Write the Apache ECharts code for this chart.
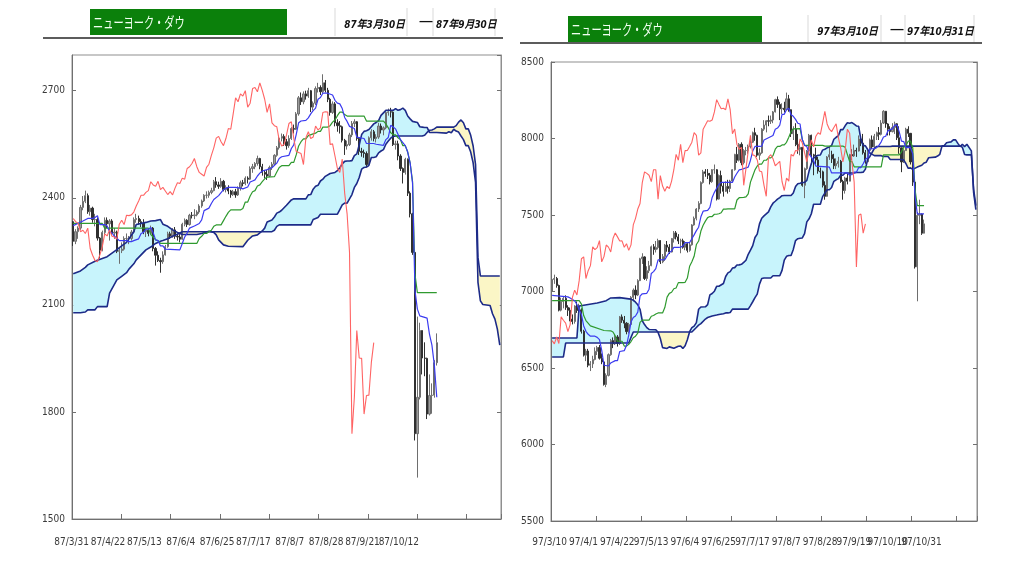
<!DOCTYPE html>
<html><head><meta charset="utf-8">
<script src="https://cdn.jsdelivr.net/npm/echarts@6/dist/echarts.min.js"></script>
<style>html,body{margin:0;padding:0;background:#fff}#c{width:1024px;height:576px}</style>
</head><body><div id="c"></div>
<script>
// ---------- text ----------
const titleText = 'ニューヨーク・ダウ';
const leftFrom = '87年3月30日', leftTo = '87年9月30日';
const rightFrom = '97年3月10日', rightTo = '97年10月31日';
const rangeDash = '—';

// ---------- tick labels ----------
const leftTickLabels = ['87/3/31','87/4/22','87/5/13','87/6/4','87/6/25','87/7/17','87/8/7','87/8/28','87/9/21','87/10/12'];
const rightTickLabels = ['97/3/10','97/4/1','97/4/22','97/5/13','97/6/4','97/6/25','97/7/17','97/8/7','97/8/28','97/9/19','97/10/10','97/10/31'];

// ---------- 1987 daily candles [open, close, low, high] ----------
const leftOHLC = [
[2333,2278,2265,2335],[2278,2305,2270,2312],[2305,2315,2285,2320],[2315,2373,2310,2380],[2373,2390,2365,2405],
[2390,2406,2385,2420],[2406,2361,2355,2412],[2361,2371,2350,2380],[2371,2339,2330,2375],[2339,2339,2320,2355],
[2339,2287,2280,2345],[2287,2253,2230,2290],[2253,2303,2250,2308],[2303,2337,2298,2345],[2337,2327,2315,2345],
[2327,2335,2280,2340],[2335,2301,2295,2340],[2301,2304,2285,2315],[2304,2250,2245,2308],[2250,2252,2215,2262],
[2252,2256,2245,2275],[2256,2286,2252,2292],[2286,2286,2278,2300],[2286,2286,2270,2293],[2286,2304,2280,2310],
[2304,2339,2300,2345],[2339,2342,2330,2355],[2342,2333,2325,2350],[2333,2329,2318,2340],[2329,2305,2298,2340],
[2305,2309,2290,2315],[2309,2300,2292,2315],[2300,2315,2298,2322],[2315,2258,2250,2318],[2258,2239,2210,2262],
[2239,2224,2220,2250],[2224,2221,2190,2232],[2221,2240,2215,2250],[2240,2263,2238,2268],[2263,2299,2260,2305],
[2299,2293,2285,2305],[2293,2310,2288,2315],[2310,2292,2285,2318],[2292,2290,2280,2300],[2290,2284,2275,2298],
[2284,2326,2282,2330],[2326,2337,2320,2342],[2337,2325,2318,2340],[2325,2351,2322,2355],[2351,2350,2342,2360],
[2350,2352,2340,2368],[2352,2360,2348,2365],[2360,2377,2355,2382],[2377,2391,2372,2395],[2391,2407,2388,2410],
[2407,2407,2398,2418],[2407,2415,2400,2420],[2415,2420,2410,2428],[2420,2445,2418,2450],[2445,2436,2428,2458],
[2436,2432,2425,2445],[2432,2446,2428,2455],[2446,2423,2418,2450],[2423,2429,2415,2435],[2429,2419,2410,2435],
[2419,2409,2400,2422],[2409,2417,2405,2422],[2417,2408,2400,2425],[2408,2427,2405,2432],[2427,2442,2420,2448],
[2442,2440,2432,2450],[2440,2455,2435,2460],[2455,2452,2440,2460],[2452,2482,2450,2488],[2482,2487,2470,2495],
[2487,2496,2480,2500],[2496,2510,2490,2518],[2510,2487,2480,2512],[2487,2471,2462,2495],[2471,2466,2455,2478],
[2466,2461,2450,2478],[2461,2485,2458,2490],[2485,2494,2478,2500],[2494,2519,2490,2522],[2519,2540,2515,2545],
[2540,2567,2535,2570],[2567,2572,2558,2580],[2572,2557,2545,2578],[2557,2546,2535,2565],[2546,2566,2540,2575],
[2566,2594,2562,2598],[2594,2592,2580,2605],[2592,2635,2590,2640],[2635,2680,2630,2685],[2680,2669,2660,2695],
[2669,2691,2662,2698],[2691,2685,2675,2700],[2685,2700,2680,2708],[2700,2654,2640,2702],[2654,2665,2645,2670],
[2665,2706,2660,2712],[2706,2709,2695,2722],[2709,2697,2688,2715],[2697,2722,2692,2746],[2722,2701,2695,2730],
[2701,2676,2668,2708],[2676,2639,2630,2680],[2639,2663,2635,2670],[2663,2610,2600,2668],[2610,2602,2585,2620],
[2602,2599,2580,2615],[2599,2561,2555,2602],[2561,2545,2520,2565],[2545,2549,2535,2560],[2549,2576,2545,2582],
[2576,2608,2570,2615],[2608,2613,2598,2620],[2613,2566,2560,2615],[2566,2530,2520,2570],[2530,2527,2515,2540],
[2527,2524,2512,2535],[2524,2493,2485,2530],[2493,2568,2488,2572],[2568,2585,2560,2592],[2585,2566,2558,2590],
[2566,2570,2555,2578],[2570,2601,2565,2610],[2601,2590,2580,2608],[2590,2596,2575,2600],[2596,2639,2592,2642],
[2639,2641,2630,2650],[2641,2640,2625,2652],[2640,2549,2545,2642],[2549,2551,2535,2560],[2551,2517,2505,2560],
[2517,2482,2475,2522],[2482,2471,2440,2485],[2471,2508,2465,2512],[2508,2413,2405,2510],[2413,2355,2345,2418],
[2355,2247,2240,2358],[2247,1739,1720,2247],[1739,1841,1616,2067],[1841,2028,1835,2050],[2028,1951,1905,2028],
[1951,1950,1900,1995],[1950,1794,1780,1952],[1794,1846,1790,1905],[1846,1847,1795,1880],[1847,1938,1840,1945],
[1938,1994,1930,2020]
];
// conversion line (bar index, value)
const leftTenkan = [[0,2322],[4,2335],[6,2342],[8,2342],[9,2345],[10,2350],[11,2325],[13,2325],[14,2321],[15,2305],[16,2302],[17,2292],[18,2287],[19,2280],[22,2280],[23,2277],[24,2277],[25,2280],[27,2285],[28,2300],[29,2303],[30,2312],[31,2312],[32,2317],[33,2302],[34,2282],[35,2280],[36,2265],[37,2265],[38,2256],[44,2254],[45,2272],[46,2290],[47,2301],[48,2315],[50,2321],[52,2328],[53,2338],[54,2364],[56,2371],[57,2384],[58,2395],[60,2406],[62,2423],[64,2429],[67,2429],[69,2427],[70,2425],[72,2430],[73,2444],[74,2447],[75,2450],[76,2461],[77,2469],[78,2475],[80,2479],[82,2484],[84,2497],[85,2510],[86,2515],[89,2519],[90,2538],[91,2548],[92,2577],[93,2610],[94,2615],[96,2617],[97,2624],[98,2635],[99,2644],[100,2651],[101,2676],[102,2681],[103,2693],[105,2693],[107,2688],[108,2673],[109,2665],[110,2663],[111,2650],[112,2625],[113,2614],[114,2600],[116,2594],[117,2570],[120,2566],[121,2552],[124,2552],[125,2550],[128,2547],[129,2563],[130,2569],[131,2603],[132,2598],[133,2593],[134,2578],[135,2563],[137,2546],[138,2528],[139,2498],[140,2441],[141,2140],[142,2088],[143,2069],[146,2063],[147,2017],[148,1987],[149,1931],[150,1841]];
// base line
const leftKijun = [[0,2328],[12,2328],[13,2315],[31,2315],[32,2297],[33,2290],[34,2282],[35,2280],[36,2272],[51,2272],[52,2286],[53,2292],[54,2300],[55,2300],[56,2305],[57,2309],[58,2320],[59,2324],[61,2324],[62,2336],[63,2348],[64,2359],[65,2366],[69,2366],[70,2370],[71,2388],[72,2388],[73,2405],[74,2417],[75,2420],[76,2433],[77,2436],[78,2445],[79,2453],[80,2458],[83,2459],[84,2472],[85,2485],[86,2490],[89,2490],[90,2499],[91,2499],[92,2520],[93,2545],[94,2557],[95,2565],[96,2565],[97,2574],[99,2579],[100,2581],[101,2586],[102,2586],[103,2598],[105,2598],[106,2602],[107,2612],[108,2618],[109,2630],[110,2640],[111,2640],[112,2633],[113,2629],[120,2629],[121,2615],[128,2615],[129,2607],[130,2596],[131,2582],[132,2577],[133,2576],[134,2568],[135,2563],[136,2546],[137,2546],[138,2528],[139,2498],[140,2446],[141,2186],[142,2134],[150,2134]];
// leading spans [bar index, span A, span B]
const leftSpans = [[0,2187,2078],[3,2195,2078],[5,2205,2080],[6,2212,2086],[9,2222,2086],[10,2225,2095],[14,2235,2095],[15,2240,2133],[18,2255,2170],[20,2265,2180],[22,2275,2190],[23,2285,2200],[25,2305,2215],[26,2325,2226],[30,2331,2254],[32,2335,2262],[34,2336,2272],[36,2339,2278],[37,2326,2280],[39,2320,2285],[41,2310,2292],[43,2303,2298],[45,2297,2305],[51,2297,2305],[53,2300,2305],[56,2306,2305],[58,2303,2305],[59,2296,2305],[60,2282,2305],[62,2268,2305],[64,2264,2305],[70,2263,2305],[71,2272,2305],[72,2281,2305],[74,2293,2305],[76,2296,2305],[78,2307,2305],[79,2315,2305],[80,2332,2305],[82,2338,2305],[83,2346,2309],[84,2357,2320],[85,2360,2324],[86,2365,2324],[88,2379,2324],[90,2394,2324],[91,2397,2324],[96,2397,2324],[97,2408,2324],[98,2409,2324],[99,2424,2339],[100,2432,2342],[101,2435,2345],[102,2447,2354],[103,2452,2354],[104,2460,2354],[106,2468,2354],[108,2471,2354],[109,2476,2354],[110,2484,2367],[111,2495,2380],[112,2502,2385],[113,2503,2385],[114,2503,2397],[115,2504,2409],[116,2518,2429],[117,2523,2440],[118,2548,2457],[119,2577,2480],[120,2586,2485],[121,2588,2486],[122,2591,2491],[123,2599,2513],[124,2607,2513],[125,2611,2515],[126,2616,2526],[127,2631,2531],[128,2638,2535],[129,2645,2550],[130,2645,2559],[131,2645,2567],[132,2645,2572],[133,2650,2573],[134,2645,2573],[135,2647,2573],[136,2651,2573],[137,2645,2573],[138,2629,2573],[139,2621,2573],[140,2614,2573],[142,2611,2573],[143,2599,2573],[144,2598,2573],[145,2597,2575],[146,2597,2583],[147,2583,2589],[148,2583,2590],[149,2583,2593],[150,2583,2598],[154,2581,2598],[155,2585,2598],[156,2582,2598],[157,2592,2598],[158,2587,2602],[159,2584,2612],[160,2573,2618],[161,2563,2610],[162,2546,2593],[163,2546,2593],[164,2528,2575],[165,2498,2545],[166,2443,2493],[167,2163,2233],[168,2111,2181],[169,2101,2181],[172,2098,2181],[173,2075,2181],[174,2060,2181],[175,2032,2181],[176,1987,2181]];

// ---------- 1997 daily candles [open, close, low, high] ----------
const rightOHLC = [
[7000,7079,6990,7100],[7079,7085,7050,7110],[7085,7039,7025,7095],[7039,6878,6870,7045],[6878,6935,6870,6960],
[6935,6955,6890,6965],[6955,6896,6880,6975],[6896,6877,6840,6910],[6877,6820,6805,6895],[6820,6804,6785,6850],
[6804,6905,6790,6910],[6905,6876,6860,6935],[6876,6880,6860,6920],[6880,6740,6725,6890],[6740,6584,6575,6750],
[6584,6611,6545,6625],[6611,6518,6505,6625],[6518,6527,6480,6545],[6527,6556,6500,6580],[6556,6609,6550,6635],
[6609,6634,6585,6645],[6634,6564,6555,6650],[6564,6540,6525,6595],[6540,6392,6385,6545],[6392,6452,6375,6465],
[6452,6587,6445,6595],[6587,6679,6580,6690],[6679,6658,6630,6700],[6658,6703,6650,6720],[6703,6660,6640,6715],
[6660,6834,6650,6840],[6834,6812,6795,6850],[6812,6793,6760,6840],[6793,6738,6720,6800],[6738,6784,6725,6795],
[6784,6962,6780,6970],[6962,7009,6935,7020],[7009,6977,6950,7040],[6977,7071,6970,7080],[7071,7214,7068,7220],
[7214,7226,7180,7250],[7226,7085,7075,7230],[7085,7136,7070,7165],[7136,7169,7120,7200],[7169,7292,7165,7300],
[7292,7274,7240,7310],[7274,7287,7255,7330],[7287,7333,7275,7345],[7333,7194,7180,7335],[7194,7228,7185,7245],
[7228,7304,7200,7310],[7304,7290,7260,7330],[7290,7258,7245,7310],[7258,7346,7255,7350],[7346,7383,7320,7395],
[7383,7357,7340,7395],[7357,7330,7310,7375],[7330,7331,7250,7345],[7331,7289,7280,7345],[7289,7312,7270,7330],
[7312,7269,7255,7320],[7269,7305,7260,7320],[7305,7435,7300,7440],[7435,7478,7430,7490],[7478,7539,7465,7545],
[7539,7575,7520,7590],[7575,7712,7570,7720],[7712,7782,7705,7795],[7782,7772,7750,7800],[7772,7760,7735,7800],
[7760,7718,7700,7775],[7718,7796,7710,7800],[7796,7796,7770,7830],[7796,7604,7595,7800],[7604,7758,7600,7765],
[7758,7689,7640,7790],[7689,7655,7620,7710],[7655,7687,7650,7720],[7687,7673,7640,7730],[7673,7722,7650,7730],
[7722,7796,7715,7800],[7796,7896,7790,7900],[7896,7858,7840,7945],[7858,7962,7850,7970],[7962,7842,7825,7975],
[7842,7921,7830,7930],[7921,7922,7890,7945],[7922,7948,7900,7960],[7948,7976,7935,8000],[7976,8038,7970,8045],
[8038,8021,7985,8070],[8021,7891,7880,8025],[7891,7906,7860,7935],[7906,8061,7900,8068],[8061,8088,8050,8120],
[8088,8116,8040,8120],[8116,8113,8080,8150],[8113,8121,8095,8150],[8121,8174,8100,8180],[8174,8254,8170,8260],
[8254,8223,8200,8275],[8223,8194,8120,8240],[8194,8198,8160,8230],[8198,8188,8170,8240],[8188,8259,8185,8300],
[8259,8188,8175,8285],[8188,8031,8010,8190],[8031,8062,7990,8080],[8062,7960,7950,8100],[7960,7929,7900,8030],
[7929,7942,7890,7980],[7942,7694,7685,7945],[7694,7803,7610,7810],[7803,7918,7795,7925],[7918,8021,7910,8030],
[8021,7893,7830,8025],[7893,7887,7760,7900],[7887,7860,7830,7940],[7860,7787,7770,7880],[7787,7782,7740,7810],
[7782,7694,7680,7790],[7694,7622,7600,7720],[7622,7879,7620,7885],[7879,7894,7860,7950],[7894,7867,7840,7920],
[7867,7822,7800,7900],[7822,7836,7800,7870],[7836,7851,7810,7880],[7851,7719,7710,7860],[7719,7660,7600,7730],
[7660,7742,7640,7750],[7742,7721,7700,7770],[7721,7895,7720,7900],[7895,7886,7860,7930],[7886,7922,7880,7960],
[7922,7918,7880,7940],[7918,7997,7915,8020],[7997,7970,7950,8010],[7970,7907,7895,8030],[7907,7848,7835,7925],
[7848,7922,7845,7930],[7922,7991,7915,8000],[7991,7945,7930,8020],[7945,8015,7940,8030],[8015,8038,7990,8045],
[8038,8027,7990,8075],[8027,8101,8020,8120],[8101,8178,8095,8185],[8178,8095,8070,8180],[8095,8061,8020,8100],
[8061,8045,8020,8080],[8045,8072,8040,8100],[8072,8096,8030,8110],[8096,8005,7990,8100],[8005,7939,7900,8080],
[7939,7847,7780,7940],[7847,7921,7840,7930],[7921,8061,7920,8070],[8061,8034,8010,8080],[8034,7847,7830,8030],
[7847,7715,7690,7930],[7715,7161,7150,7730],[7161,7498,6936,7520],[7498,7506,7440,7600],[7506,7381,7370,7510],
[7381,7442,7380,7470]
];
const rightTenkan = [[0,6975],[7,6965],[8,6958],[9,6948],[10,6940],[11,6915],[12,6880],[13,6850],[14,6775],[15,6740],[16,6720],[17,6708],[19,6708],[20,6700],[21,6685],[22,6615],[23,6518],[25,6513],[26,6533],[28,6548],[29,6548],[30,6608],[32,6613],[33,6648],[34,6715],[35,6800],[36,6830],[37,6840],[38,6865],[39,6970],[40,6985],[42,6988],[43,7015],[44,7118],[45,7130],[46,7150],[47,7207],[50,7208],[51,7233],[52,7255],[53,7265],[54,7288],[56,7288],[57,7290],[58,7298],[59,7320],[61,7320],[62,7345],[63,7370],[64,7398],[65,7420],[66,7488],[67,7525],[69,7530],[70,7550],[71,7615],[72,7648],[73,7675],[74,7700],[75,7713],[80,7713],[81,7748],[82,7773],[83,7795],[84,7798],[86,7808],[87,7813],[88,7858],[89,7918],[90,7948],[92,7948],[93,7950],[94,7990],[96,8005],[98,8020],[99,8060],[100,8068],[101,8088],[102,8158],[103,8158],[104,8190],[105,8198],[106,8155],[107,8145],[108,8125],[109,8100],[110,8095],[111,7993],[112,7955],[113,7948],[114,7900],[116,7855],[117,7820],[122,7815],[123,7813],[124,7775],[131,7775],[132,7760],[133,7765],[134,7780],[135,7780],[136,7810],[137,7810],[138,7835],[139,7865],[140,7875],[141,7933],[143,7933],[144,7940],[145,7955],[146,7978],[147,8010],[148,8015],[149,8050],[150,8058],[151,8063],[152,8088],[153,8088],[154,8043],[155,7983],[156,7980],[157,7940],[159,7940],[160,7900],[161,7625],[162,7508],[165,7508]];
const rightKijun = [[0,6940],[12,6940],[13,6918],[14,6843],[15,6810],[17,6775],[23,6745],[26,6743],[27,6735],[28,6710],[29,6675],[31,6675],[32,6643],[33,6643],[34,6655],[35,6673],[36,6698],[37,6708],[38,6728],[39,6798],[40,6813],[43,6813],[44,6838],[45,6843],[46,6853],[47,6860],[49,6860],[50,6895],[51,6963],[52,6988],[53,6995],[54,7018],[55,7023],[56,7058],[58,7058],[59,7060],[60,7088],[61,7165],[62,7195],[63,7230],[64,7307],[65,7330],[66,7395],[67,7433],[68,7460],[69,7483],[70,7490],[71,7490],[72,7505],[73,7505],[74,7508],[75,7515],[76,7538],[77,7538],[78,7540],[81,7540],[82,7598],[83,7613],[85,7615],[86,7618],[87,7638],[88,7715],[89,7755],[90,7795],[91,7820],[92,7833],[93,7833],[94,7858],[95,7858],[96,7873],[97,7873],[98,7888],[99,7930],[100,7948],[101,7948],[102,7958],[103,7958],[104,7975],[105,8008],[106,8045],[107,8063],[110,8065],[111,7993],[112,7955],[120,7955],[121,7950],[129,7950],[130,7943],[131,7895],[132,7850],[133,7850],[134,7815],[146,7815],[147,7893],[154,7893],[155,7913],[156,7943],[157,7953],[158,7983],[159,7983],[160,7938],[161,7668],[162,7561],[165,7561]];
const rightSpans = [[0,6696,6572],[5,6696,6572],[6,6696,6663],[11,6696,6663],[12,6905,6663],[16,6915,6663],[20,6925,6663],[24,6940,6663],[26,6958,6663],[30,6960,6663],[34,6952,6663],[35,6950,6700],[36,6943,6735],[37,6930,6735],[38,6913,6735],[39,6884,6735],[40,6809,6735],[41,6784,6735],[42,6764,6735],[43,6752,6735],[46,6750,6735],[47,6733,6735],[48,6693,6735],[49,6633,6735],[51,6628,6735],[52,6638,6735],[54,6629,6735],[56,6642,6735],[57,6644,6735],[58,6628,6735],[59,6646,6735],[60,6685,6735],[61,6737,6735],[62,6764,6735],[63,6774,6750],[64,6797,6765],[65,6884,6780],[66,6899,6790],[68,6900,6820],[69,6914,6830],[70,6978,6835],[71,6987,6840],[72,7002,6843],[73,7034,6846],[74,7034,6850],[76,7052,6855],[77,7098,6860],[78,7122,6860],[79,7130,6863],[80,7153,6885],[81,7156,6885],[82,7173,6885],[83,7174,6885],[84,7178,6885],[85,7190,6885],[86,7204,6885],[87,7243,6885],[88,7270,6908],[89,7300,6933],[90,7353,6960],[91,7375,6983],[92,7442,7048],[93,7479,7085],[94,7494,7088],[95,7507,7088],[96,7520,7088],[97,7553,7088],[98,7577,7103],[99,7590,7103],[100,7604,7103],[101,7614,7103],[102,7626,7138],[103,7627,7205],[104,7627,7230],[105,7627,7235],[106,7627,7235],[107,7644,7275],[108,7686,7333],[109,7704,7345],[110,7707,7348],[111,7712,7350],[112,7713,7378],[113,7726,7455],[114,7787,7475],[115,7837,7508],[116,7872,7570],[117,7884,7570],[118,7891,7570],[119,7892,7570],[120,7924,7620],[121,7930,7643],[122,7939,7665],[123,7945,7665],[124,7954,7680],[125,7995,7720],[126,8008,7730],[127,8018,7738],[128,8058,7760],[129,8058,7760],[130,8083,7775],[131,8103,7775],[132,8100,7775],[133,8104,7775],[134,8094,7775],[135,8082,7778],[136,8080,7778],[137,7993,7778],[138,7955,7780],[139,7952,7800],[140,7928,7865],[141,7905,7883],[142,7896,7910],[143,7888,7935],[144,7888,7948],[146,7888,7948],[147,7883,7948],[149,7882,7948],[150,7863,7948],[151,7863,7950],[155,7863,7950],[156,7859,7950],[157,7835,7950],[158,7805,7950],[159,7808,7950],[160,7798,7950],[162,7813,7950],[164,7825,7950],[165,7840,7950],[166,7845,7950],[167,7874,7950],[170,7878,7950],[171,7885,7950],[172,7897,7950],[173,7952,7950],[174,7954,7950],[175,7972,7950],[176,7976,7950],[177,7978,7950],[178,7991,7950],[179,7991,7950],[180,7968,7950],[181,7948,7950],[182,7962,7943],[183,7947,7895],[184,7962,7893],[186,7919,7893],[187,7647,7668],[188,7535,7561]];

// ---------- layout / style ----------
const FONT = "'Liberation Sans Narrow','DejaVu Sans Condensed','Liberation Sans',sans-serif";
const LAG = 26;
const panels = [
  {left:72, top:55, width:429, height:464, n:177, labels:leftTickLabels, labelStart:1, tickPx:49.33,
   ohlc:leftOHLC, tenkan:leftTenkan, kijun:leftKijun, spans:leftSpans,
   ymin:1500, ymax:2800, yint:300, showMax:false, lblMargin:18, lblPad:[0,8,0,0], barW:1.8},
  {left:551, top:62, width:426, height:459, n:189, labels:rightTickLabels, labelStart:0, tickPx:45.05,
   ohlc:rightOHLC, tenkan:rightTenkan, kijun:rightKijun, spans:rightSpans,
   ymin:5500, ymax:8500, yint:500, showMax:true, lblMargin:16, lblPad:[0,5,0,0], barW:1.6}
];

// categories carrying every other tick label (two label rows keep labels from being auto-hidden)
function makeCats(n, labels, start, parity){
  const c=[];
  for(let i=0;i<n;i++){
    const k=(i-start)/15;
    c.push(i>=start && Number.isInteger(k) && k<labels.length && k%2===parity ? labels[k] : '');
  }
  return c;
}
function cloudSeries(rows, xi, yi){
  const poly=(top,bot,s)=>({type:'polygon',silent:true,
    shape:{points:top.concat(bot.slice().reverse())},
    style:{fill:s>0?'#c8f4fc':'#fbf6c6'}});
  return {type:'custom', xAxisIndex:xi, yAxisIndex:yi, silent:true, z:1,
    data:[[rows[0][0], rows[0][1]]],
    renderItem:function(params, api){
      const children=[]; let sign=null, top=[], bot=[];
      for(let k=0;k<rows.length;k++){
        const pa=api.coord([rows[k][0], rows[k][1]]);
        const pb=api.coord([rows[k][0], rows[k][2]]);
        const s=rows[k][1]>=rows[k][2]?1:-1;
        if(k>0 && s!==sign){
          const d0=rows[k-1][1]-rows[k-1][2], d1=rows[k][1]-rows[k][2];
          const t=d0/(d0-d1);
          const qa=api.coord([rows[k-1][0], rows[k-1][1]]);
          const X=[qa[0]+t*(pa[0]-qa[0]), qa[1]+t*(pa[1]-qa[1])];
          top.push(X); children.push(poly(top,bot,sign));
          top=[X]; bot=[];
        }
        sign=s; top.push(pa); bot.push(pb);
      }
      children.push(poly(top,bot,sign));
      return {type:'group', children};
    }};
}
const lineS=(data,xi,yi,color,w,z)=>({type:'line',xAxisIndex:xi,yAxisIndex:yi,data,symbol:'none',
  silent:true,z:z,lineStyle:{color,width:w},itemStyle:{color}});

const grid=[], xAxis=[], yAxis=[], series=[];
panels.forEach((P,p)=>{
  grid.push({left:P.left, top:P.top, width:P.width, height:P.height, show:true, borderColor:'#8f8f8f', borderWidth:1});
  const lbl={interval:(i,v)=>v!=='', color:'#3a3a3a', fontSize:10, fontFamily:FONT, margin:P.lblMargin,
    padding:P.lblPad, hideOverlap:false};
  [0,1].forEach(par=>{
    xAxis.push({gridIndex:p, type:'category', position:'bottom', data:makeCats(P.n,P.labels,P.labelStart,par), boundaryGap:true,
      axisLine:{show:par===0,lineStyle:{color:'#707070'}}, axisTick:{show:false},
      axisLabel:lbl, splitLine:{show:false}});
  });
  xAxis.push({gridIndex:p, type:'value', position:'bottom', min:0, max:P.width/P.tickPx, interval:1,
    axisLine:{show:false}, axisTick:{show:true, inside:true, length:5, lineStyle:{color:'#707070'}},
    axisLabel:{show:false}, splitLine:{show:false}});
  yAxis.push({gridIndex:p, type:'value', position:'left', min:P.ymin, max:P.ymax, interval:P.yint,
    axisLine:{show:true,lineStyle:{color:'#707070'}}, axisTick:{show:true, inside:true, length:4, lineStyle:{color:'#707070'}},
    axisLabel:{color:'#3a3a3a', fontSize:10, fontFamily:FONT, margin:7, showMaxLabel:P.showMax, showMinLabel:true,
      formatter:v=>String(v)},
    splitLine:{show:false}});
  yAxis.push({gridIndex:p, type:'value', position:'right', min:P.ymin, max:P.ymax, interval:P.yint,
    axisLine:{show:true,lineStyle:{color:'#8f8f8f'}}, axisTick:{show:true, inside:true, length:4, lineStyle:{color:'#707070'}},
    axisLabel:{show:false}, splitLine:{show:false}});
  const xi=3*p, yi=2*p;
  series.push(cloudSeries(P.spans, xi, yi));
  series.push({type:'candlestick', xAxisIndex:xi, yAxisIndex:yi, data:P.ohlc, barWidth:P.barW, silent:true, z:2,
    itemStyle:{color:'#9c9c9c', color0:'#303030', borderColor:'#6e6e6e', borderColor0:'#303030', borderWidth:1}});
  series.push(lineS(P.spans.map(r=>[r[0],r[1]]), xi, yi, '#1d2b88', 1.6, 4));
  series.push(lineS(P.spans.map(r=>[r[0],r[2]]), xi, yi, '#1d2b88', 1.6, 4));
  series.push(lineS(P.kijun, xi, yi, '#2f9a2f', 1.2, 5));
  series.push(lineS(P.tenkan, xi, yi, '#3b3bf0', 1.2, 6));
  series.push(lineS(P.ohlc.slice(LAG).map((d,i)=>[i,d[1]]), xi, yi, '#ff6464', 1.1, 7));
});

const hdrFont='italic bold 11px '+FONT+',"Noto Sans CJK JP"';
const sep=(x,y1,y2)=>({type:'line',silent:true,shape:{x1:x,y1:y1,x2:x,y2:y2},style:{stroke:'#d9d9d9',lineWidth:1}});
const graphic=[
  {type:'line',silent:true,shape:{x1:43,y1:38,x2:503,y2:38},style:{stroke:'#5c5c5c',lineWidth:2}},
  {type:'rect',silent:true,shape:{x:90,y:9,width:197,height:26},style:{fill:'#0b800b'}},
  {type:'text',silent:true,x:93,y:22,scaleX:0.68,style:{text:titleText,fill:'#f2fff2',font:'15px "Noto Sans CJK JP"',align:'left',verticalAlign:'middle'}},
  sep(335,8,36),sep(407,8,36),sep(433,8,36),sep(495,8,36),
  {type:'text',silent:true,x:405,y:25,scaleX:0.9,style:{text:leftFrom,fill:'#111',font:hdrFont,align:'right',verticalAlign:'middle'}},
  {type:'text',silent:true,x:426,y:21,style:{text:rangeDash,fill:'#111',font:'bold 13px sans-serif',align:'center',verticalAlign:'middle'}},
  {type:'text',silent:true,x:436,y:25,scaleX:0.9,style:{text:leftTo,fill:'#111',font:hdrFont,align:'left',verticalAlign:'middle'}},

  {type:'line',silent:true,shape:{x1:520,y1:43,x2:982,y2:43},style:{stroke:'#5c5c5c',lineWidth:2}},
  {type:'rect',silent:true,shape:{x:568,y:16,width:194,height:26},style:{fill:'#0b800b'}},
  {type:'text',silent:true,x:571,y:29,scaleX:0.68,style:{text:titleText,fill:'#f2fff2',font:'15px "Noto Sans CJK JP"',align:'left',verticalAlign:'middle'}},
  sep(808,15,42),sep(881,15,42),sep(905,15,42),sep(974,15,42),
  {type:'text',silent:true,x:878,y:32,scaleX:0.9,style:{text:rightFrom,fill:'#111',font:hdrFont,align:'right',verticalAlign:'middle'}},
  {type:'text',silent:true,x:897,y:29,style:{text:rangeDash,fill:'#111',font:'bold 13px sans-serif',align:'center',verticalAlign:'middle'}},
  {type:'text',silent:true,x:907,y:32,scaleX:0.9,style:{text:rightTo,fill:'#111',font:hdrFont,align:'left',verticalAlign:'middle'}}
];

const chart=echarts.init(document.getElementById('c'));
chart.setOption({animation:false, backgroundColor:'#ffffff', grid, xAxis, yAxis, series, graphic});
</script></body></html>
